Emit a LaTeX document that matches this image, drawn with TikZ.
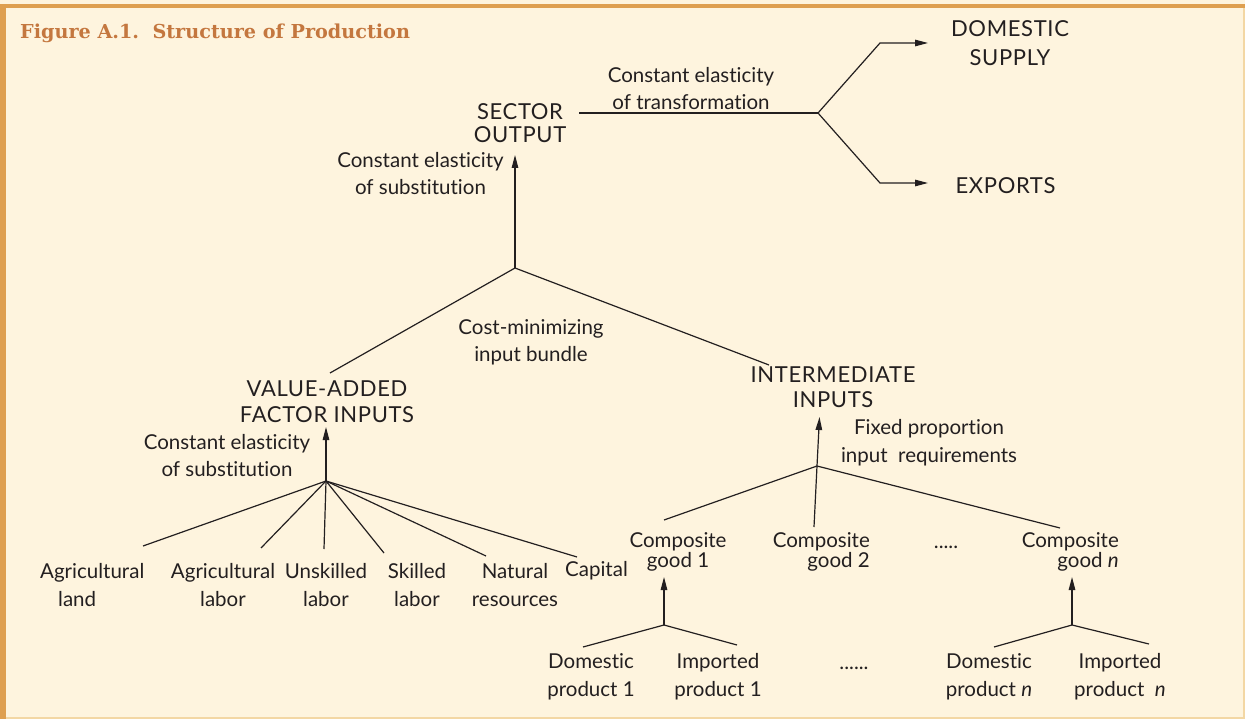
\documentclass[tikz,border=0pt]{standalone}
\usepackage{fontspec}
\usetikzlibrary{arrows.meta}
\newfontfamily\bodyf[Ligatures=NoCommon]{Lato}
\newfontfamily\capsf[LetterSpace=3,Ligatures=NoCommon]{Lato}
\newfontfamily\titlef{DejaVu Serif}
\definecolor{bgcol}{HTML}{FEF4DE}
\definecolor{framecol}{HTML}{DE9F50}
\definecolor{thincol}{HTML}{F3D7A4}
\definecolor{titlecol}{HTML}{C4773F}
\definecolor{inkcol}{HTML}{231F20}
\tikzset{
  lbl/.style={font=\bodyf\fontsize{20.5}{#1}\selectfont, align=center, inner sep=0pt, text=inkcol},
  lbl/.default=27,
  capl/.style={font=\capsf\fontsize{22}{#1}\selectfont, align=center, inner sep=0pt, text=inkcol},
  capl/.default=25,
  conn/.style={line width=1.2pt, draw=inkcol},
  arr/.style={conn, -{Triangle[length=13pt,width=6.5pt]}},
}
\begin{document}
\begin{tikzpicture}[x=1pt,y=-1pt]
\useasboundingbox (0,0) rectangle (1245,719);
% frame
\fill[bgcol] (0,0) rectangle (1245,719);
\draw[thincol, line width=2pt] (0,717.5) -- (1243.5,717.5) -- (1243.5,4);
\fill[framecol] (0,4) rectangle (1245,8.5);
\fill[framecol] (0,4) rectangle (6,719);
% title
\node[anchor=base west, inner sep=0pt, text=titlecol, font=\titlef\bfseries\fontsize{19.2}{22}\selectfont] (title) at (20,39) {Figure A.1.\ \ Structure of Production};

% labels
\node[capl=23] (sector) at (520,123.5) {SECTOR\\OUTPUT};
\node[lbl] (trans) at (691,88.5) {Constant elasticity\\of transformation};
\node[capl=29] (dom) at (1010,43.5) {DOMESTIC\\SUPPLY};
\node[capl] (exp) at (1005.5,186) {EXPORTS};
\node[lbl] (subs) at (420.5,174) {Constant elasticity\\of substitution};
\node[lbl] (cost) at (531,342.5) {Cost-minimizing\\input bundle};
\node[capl=26] (va) at (327,402) {VALUE-ADDED\\FACTOR INPUTS};
\node[capl=25] (ii) at (833,387.5) {INTERMEDIATE\\INPUTS};
\node[lbl] (subs2) at (227,455.5) {Constant elasticity\\of substitution};
\node[lbl=28] (fixed) at (929,443) {Fixed proportion\\input\ \ requirements};

\node[lbl=28, align=left, anchor=west] (agland) at (40,585) {Agricultural\\\hspace*{18pt}land};
\node[lbl=28] (aglab) at (223,585) {Agricultural\\labor};
\node[lbl=28] (unsk) at (326,585) {Unskilled\\labor};
\node[lbl=28] (skill) at (417,585) {Skilled\\labor};
\node[lbl=28] (natur) at (515,585) {Natural\\resources};
\node[lbl] (capit) at (596.5,571) {Capital};

\node[lbl=20] (cg1) at (678,552) {Composite\\good 1};
\node[lbl=20, align=right, anchor=east] (cg2) at (870,552) {Composite\\good 2};
\node[lbl, anchor=base] (dotsa) at (946,548) {.....};
\node[lbl=20, align=right, anchor=east] (cgn) at (1119,552) {Composite\\good \textit{n}};

\node[lbl=28] (dp1) at (591,677) {Domestic\\product 1};
\node[lbl=28] (ip1) at (718,677) {Imported\\product 1};
\node[lbl, anchor=base] (dotsb) at (854,669) {......};
\node[lbl=28] (dpn) at (989,677) {Domestic\\product \textit{n}};
\node[lbl=28] (ipn) at (1120,677) {Imported\\product\ \ \textit{n}};

% junctions and connector ends
\coordinate (jT) at (818,113);
\coordinate (so) at (579,113);
\coordinate (du) at (880,43);
\coordinate (dtip) at (928,43);
\coordinate (ed) at (880,183);
\coordinate (etip) at (928,183);
\coordinate (jS) at (515,268);
\coordinate (stip) at (515,155);
\coordinate (vaend) at (330,373);
\coordinate (iiend) at (769,365);
\coordinate (jV) at (326,481);
\coordinate (vtip) at (326,427);
\coordinate (e1) at (143,546);
\coordinate (e2) at (261,548);
\coordinate (e3) at (324,549);
\coordinate (e4) at (384,553);
\coordinate (e5) at (486,556);
\coordinate (e6) at (577,557);
\coordinate (jI) at (817,466);
\coordinate (itip) at (819.5,417);
\coordinate (c1end) at (664,520);
\coordinate (c2end) at (814,527);
\coordinate (cnend) at (1060,528);
\coordinate (jC1) at (664,625);
\coordinate (c1tip) at (664,577);
\coordinate (d1end) at (583,647);
\coordinate (i1end) at (737,645);
\coordinate (jCn) at (1072,625);
\coordinate (cntip) at (1072,577);
\coordinate (dnend) at (994,647);
\coordinate (inend) at (1149,644);

% connectors
\draw[conn] (so) -- (jT);
\draw[arr] (jT) -- (du) -- (dtip);
\draw[arr] (jT) -- (ed) -- (etip);
\draw[arr] (jS) -- (stip);
\draw[conn] (vaend) -- (jS) -- (iiend);
\draw[arr] (jV) -- (vtip);
\foreach \e in {e1,e2,e3,e4,e5,e6} \draw[conn] (jV) -- (\e);
\draw[arr] (jI) -- (itip);
\draw[conn] (c1end) -- (jI) -- (cnend);
\draw[conn] (jI) -- (c2end);
\draw[arr] (jC1) -- (c1tip);
\draw[conn] (d1end) -- (jC1) -- (i1end);
\draw[arr] (jCn) -- (cntip);
\draw[conn] (dnend) -- (jCn) -- (inend);
\end{tikzpicture}
\end{document}
